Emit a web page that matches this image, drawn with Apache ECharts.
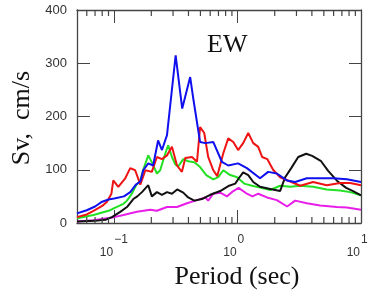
<!DOCTYPE html>
<html>
<head>
<meta charset="utf-8">
<script src="https://cdn.jsdelivr.net/npm/echarts@6/dist/echarts.min.js"></script>
<style>
  html, body { margin: 0; padding: 0; background: #fff; }
  #chart { width: 370px; height: 298px; }
</style>
</head>
<body>
<div id="chart"></div>
<script>
// [period (sec), Sv (cm/s)]
const blueLine = [[0.05,18],[0.06,24],[0.07,31],[0.08,40],[0.09,44],[0.1,46],[0.12,50],[0.135,58],[0.15,72],[0.163,78],[0.172,99],[0.189,112],[0.207,108],[0.227,155],[0.244,137],[0.268,165],[0.315,315],[0.356,215],[0.413,274],[0.44,230],[0.497,152],[0.547,150],[0.636,152],[0.746,115],[0.84,108],[1.01,112],[1.19,103],[1.52,84],[1.77,96],[2.08,93],[2.51,80],[2.93,77],[3.64,84],[4.67,84],[5.95,84],[7.68,82],[10,77]];
const redLine = [[0.05,11],[0.06,16],[0.068,23],[0.08,32],[0.0875,40],[0.095,55],[0.0984,80],[0.108,68],[0.123,84],[0.135,103],[0.148,99],[0.163,72],[0.179,99],[0.202,96],[0.222,124],[0.244,120],[0.268,127],[0.294,143],[0.323,108],[0.354,96],[0.377,122],[0.427,124],[0.469,115],[0.497,180],[0.537,169],[0.578,124],[0.636,99],[0.684,88],[0.766,131],[0.84,159],[0.923,152],[1.01,137],[1.11,150],[1.22,169],[1.34,150],[1.47,143],[1.58,124],[1.74,120],[1.94,100],[2.21,86],[2.67,78],[3.22,70],[4.09,77],[5.28,71],[6.77,75],[8.17,75],[10,71]];
const greenLine = [[0.05,9],[0.068,15],[0.093,24],[0.1,28],[0.119,36],[0.127,42],[0.139,55],[0.15,70],[0.163,80],[0.172,100],[0.189,127],[0.204,112],[0.222,93],[0.236,99],[0.26,131],[0.274,146],[0.294,124],[0.313,110],[0.33,106],[0.363,120],[0.398,116],[0.446,114],[0.497,105],[0.557,90],[0.636,82],[0.697,86],[0.766,99],[0.871,90],[0.993,86],[1.13,74],[1.31,70],[1.55,66],[1.84,62],[2.21,70],[2.67,68],[3.22,70],[4.09,68],[5.28,63],[6.77,61],[8.17,58],[10,52]];
const blackLine = [[0.05,3],[0.07,4],[0.085,6],[0.096,11],[0.112,21],[0.127,30],[0.143,45],[0.154,50],[0.168,58],[0.189,71],[0.202,50],[0.222,58],[0.244,53],[0.268,58],[0.294,55],[0.324,63],[0.363,57],[0.398,48],[0.446,42],[0.514,45],[0.6,53],[0.723,60],[0.855,70],[0.957,74],[1.03,85],[1.11,95],[1.22,90],[1.34,77],[1.52,68],[1.84,64],[2.21,60],[2.43,86],[2.72,103],[3.1,124],[3.6,130],[4.02,126],[4.75,116],[5.42,98],[6.41,79],[7.59,66],[8.63,60],[10,52]];
const magentaLine = [[0.05,3],[0.068,5],[0.0875,9],[0.1,11],[0.119,15],[0.153,21],[0.196,25],[0.222,23],[0.268,30],[0.323,30],[0.389,37],[0.469,43],[0.547,48],[0.578,42],[0.636,55],[0.723,57],[0.82,50],[0.923,60],[1.02,66],[1.19,55],[1.32,50],[1.47,55],[1.73,48],[2.08,43],[2.52,31],[2.93,42],[3.64,37],[4.67,33],[6.37,30],[7.68,29],[10,25]];

// decade labels (10^n) and minor log ticks
const decades = [0.1, 1, 10];
const exponents = ['\u22121', '0', '1'];
const minorTicks = [0.06,0.07,0.08,0.09,0.2,0.3,0.4,0.5,0.6,0.7,0.8,0.9,2,3,4,5,6,7,8,9];

const serif = "'Liberation Serif', 'Times New Roman', serif";
const sans = "'Liberation Sans', Arial, sans-serif";
const frame = '#444';

function line(data, color) {
  return {
    type: 'line', data: data, showSymbol: false,
    lineStyle: { color: color, width: 2 }, itemStyle: { color: color }
  };
}

function frameAxis(extra) {
  return Object.assign({
    axisLine: { show: true, onZero: false, lineStyle: { color: frame, width: 1.3 } },
    splitLine: { show: false }
  }, extra);
}

const chart = echarts.init(document.getElementById('chart'));
chart.setOption({
  animation: false,
  title: {
    text: 'EW', left: 207, top: 32, padding: 0,
    textStyle: { fontFamily: serif, fontSize: 26, fontWeight: 'normal', color: '#111' }
  },
  grid: { left: 77, right: 9, top: 10, bottom: 75 },
  xAxis: [
    frameAxis({ type: 'log', min: 0.05, max: 10,
      axisTick: { inside: true, length: 13, lineStyle: { color: frame } },
      axisLabel: { show: false } }),
    frameAxis({ type: 'log', min: 0.05, max: 10, position: 'top',
      axisTick: { inside: true, length: 13, lineStyle: { color: frame } },
      axisLabel: { show: false } })
  ],
  yAxis: [
    frameAxis({ type: 'value', min: 0, max: 400, interval: 100,
      axisTick: { show: true, inside: true, length: 13, lineStyle: { color: frame } },
      axisLabel: { fontFamily: sans, fontSize: 13, color: '#333', margin: 10 } }),
    frameAxis({ type: 'value', min: 0, max: 400, interval: 100, position: 'right',
      axisTick: { show: true, inside: true, length: 12, lineStyle: { color: frame } },
      axisLabel: { show: false } })
  ],
  series: [
    line(magentaLine, '#e81ee8'),
    line(greenLine, '#22e022'),
    line(blackLine, '#111111'),
    line(redLine, '#ee1414'),
    line(blueLine, '#1010ee')
  ]
});

// minor ticks, decade labels and axis titles, placed through the axis scales
const finder = { xAxisIndex: 0, yAxisIndex: 0 };
const extras = [];
minorTicks.forEach(function (t) {
  const lo = chart.convertToPixel(finder, [t, 0]);
  const hi = chart.convertToPixel(finder, [t, 400]);
  extras.push({ type: 'line', z: 10, shape: { x1: lo[0], y1: lo[1], x2: lo[0], y2: lo[1] - 6 }, style: { stroke: frame, lineWidth: 1.2 } });
  extras.push({ type: 'line', z: 10, shape: { x1: hi[0], y1: hi[1], x2: hi[0], y2: hi[1] + 6 }, style: { stroke: frame, lineWidth: 1.2 } });
});
decades.forEach(function (t, i) {
  const p = chart.convertToPixel(finder, [t, 0]);
  extras.push({ type: 'text', z: 10, x: p[0] - 1, y: p[1] + 30,
    style: { text: '10', align: 'right', verticalAlign: 'middle', fontFamily: sans, fontSize: 12, fill: '#333' } });
  extras.push({ type: 'text', z: 10, x: p[0], y: p[1] + 17,
    style: { text: exponents[i], align: 'left', verticalAlign: 'middle', fontFamily: sans, fontSize: 12, fill: '#333' } });
});
extras.push({ type: 'text', z: 10, x: 237, y: 277,
  style: { text: 'Period (sec)', align: 'center', verticalAlign: 'middle', fontFamily: serif, fontSize: 26, fill: '#111' } });
extras.push({ type: 'text', z: 10, x: 22, y: 118, rotation: Math.PI / 2,
  style: { text: 'Sv,  cm/s', align: 'center', verticalAlign: 'middle', fontFamily: serif, fontSize: 26, fill: '#111' } });
chart.setOption({ graphic: extras });
</script>
</body>
</html>
